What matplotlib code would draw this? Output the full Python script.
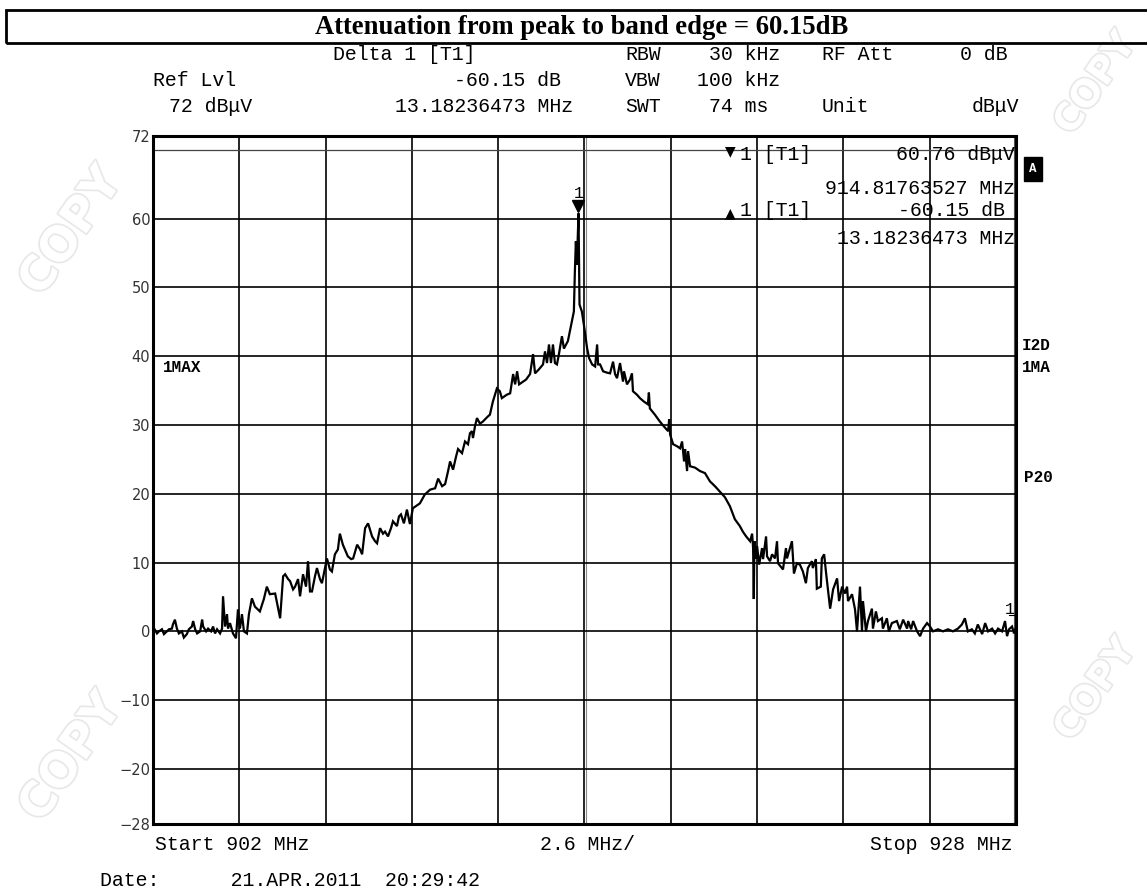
import numpy as np
import matplotlib
matplotlib.use("Agg")
import matplotlib.pyplot as plt
import matplotlib.patheffects as pe
from matplotlib.transforms import offset_copy
from matplotlib.patches import Rectangle

# ---------------------------- sweep settings -----------------------------
F_START, F_STOP = 902.0, 928.0          # MHz
REF_LVL, BOTTOM = 72, -28               # dBuV
GRID_DB = [70, 60, 50, 40, 30, 20, 10, 0, -10, -20]
YTICKS = [72, 60, 50, 40, 30, 20, 10, 0, -10, -20, -28]
PEAK_F, PEAK_DB = 914.81763527, 60.76   # marker 1
EDGE_F, EDGE_DB = 928.0, 0.61           # delta marker 1 (band edge)

# trace 1 (max hold), MHz / dBuV
TRACE_F = [
    902.00, 902.12, 902.18, 902.27, 902.33, 902.42, 902.48, 902.57, 902.60, 902.66,
    902.72, 902.78, 902.87, 902.93, 903.02, 903.08, 903.17, 903.21, 903.27, 903.33,
    903.42, 903.48, 903.51, 903.60, 903.66, 903.75, 903.81, 903.87, 903.93, 904.02,
    904.08, 904.11, 904.17, 904.23, 904.26, 904.32, 904.41, 904.50, 904.56, 904.62,
    904.68, 904.74, 904.83, 904.89, 904.98, 905.07, 905.22, 905.34, 905.43, 905.52,
    905.68, 905.83, 905.92, 905.98, 906.07, 906.13, 906.22, 906.28, 906.37, 906.43,
    906.52, 906.61, 906.67, 906.73, 906.79, 906.88, 906.94, 907.03, 907.09, 907.18,
    907.24, 907.33, 907.39, 907.48, 907.57, 907.63, 907.72, 907.81, 907.87, 907.97,
    908.03, 908.15, 908.24, 908.30, 908.39, 908.48, 908.60, 908.69, 908.75, 908.84,
    908.93, 908.99, 909.08, 909.17, 909.23, 909.35, 909.41, 909.47, 909.56, 909.65,
    909.74, 909.83, 909.92, 910.04, 910.19, 910.35, 910.50, 910.59, 910.71, 910.80,
    910.89, 910.95, 911.04, 911.13, 911.19, 911.31, 911.40, 911.49, 911.55, 911.61,
    911.64, 911.70, 911.76, 911.85, 911.94, 912.06, 912.15, 912.24, 912.36, 912.45,
    912.51, 912.60, 912.66, 912.76, 912.85, 912.91, 912.97, 913.03, 913.12, 913.24,
    913.36, 913.45, 913.51, 913.63, 913.75, 913.81, 913.87, 913.93, 913.99, 914.05,
    914.11, 914.17, 914.23, 914.32, 914.38, 914.50, 914.62, 914.68, 914.71, 914.74,
    914.77, 914.82, 914.85, 914.92, 914.98, 915.08, 915.14, 915.23, 915.32, 915.38,
    915.41, 915.47, 915.56, 915.68, 915.77, 915.86, 915.92, 915.98, 916.07, 916.16,
    916.19, 916.28, 916.37, 916.43, 916.46, 916.58, 916.67, 916.79, 916.91, 916.94,
    916.97, 917.12, 917.27, 917.39, 917.52, 917.55, 917.58, 917.67, 917.79, 917.88,
    917.94, 918.00, 918.03, 918.09, 918.12, 918.18, 918.33, 918.48, 918.63, 918.78,
    918.93, 919.08, 919.23, 919.38, 919.53, 919.68, 919.77, 919.87, 919.99, 920.05,
    920.08, 920.10, 920.12, 920.17, 920.20, 920.26, 920.35, 920.38, 920.47, 920.50,
    920.59, 920.65, 920.74, 920.80, 920.83, 920.98, 921.07, 921.10, 921.16, 921.25,
    921.31, 921.40, 921.49, 921.58, 921.67, 921.73, 921.85, 921.88, 921.97, 922.00,
    922.12, 922.15, 922.22, 922.28, 922.40, 922.49, 922.61, 922.67, 922.76, 922.85,
    922.91, 922.94, 923.06, 923.15, 923.21, 923.30, 923.36, 923.39, 923.48, 923.54,
    923.66, 923.69, 923.78, 923.84, 923.96, 923.99, 924.11, 924.17, 924.26, 924.41,
    924.50, 924.60, 924.72, 924.75, 924.84, 924.90, 925.02, 925.11, 925.20, 925.32,
    925.41, 925.50, 925.65, 925.80, 925.95, 926.10, 926.25, 926.37, 926.46, 926.55,
    926.67, 926.76, 926.85, 926.98, 927.07, 927.16, 927.28, 927.37, 927.46, 927.58,
    927.67, 927.73, 927.79, 927.88, 927.94, 928.00,
]
TRACE_DB = [
    0.7, -0.3, 0.0, 0.3, -0.4, 0.0, 0.3, 0.4, 1.0, 1.7,
    0.4, -0.3, 0.0, -0.9, -0.4, 0.3, 0.7, 1.5, 0.3, -0.3,
    0.0, 1.7, 0.7, 0.0, 0.4, 0.0, 0.7, -0.3, 0.3, -0.3,
    0.4, 5.1, 0.7, 2.5, 0.4, 1.2, -0.3, -1.0, 3.2, 0.4,
    2.5, 0.0, -0.3, 2.5, 4.8, 3.6, 2.9, 4.7, 6.5, 5.4,
    5.5, 1.9, 8.0, 8.3, 7.6, 7.3, 6.1, 6.5, 7.6, 5.1,
    8.3, 6.5, 10.2, 5.8, 5.8, 8.0, 9.2, 7.6, 7.0, 9.2,
    10.6, 9.0, 8.7, 11.2, 11.9, 14.2, 12.6, 11.6, 10.9, 10.5,
    10.6, 12.6, 11.9, 11.2, 15.0, 15.7, 13.8, 13.1, 12.8, 15.0,
    14.2, 14.5, 13.8, 15.0, 16.0, 15.3, 16.7, 17.0, 15.7, 17.7,
    15.6, 17.9, 18.2, 18.6, 19.9, 20.6, 20.8, 22.2, 21.1, 21.4,
    23.3, 24.7, 23.5, 25.4, 26.5, 25.9, 27.6, 27.2, 28.8, 29.1,
    28.1, 29.8, 31.0, 30.2, 30.5, 31.1, 31.5, 33.4, 35.3, 34.9,
    33.9, 34.2, 34.4, 34.6, 37.4, 35.9, 37.8, 35.9, 36.2, 36.6,
    37.4, 40.3, 37.5, 38.1, 38.8, 40.7, 39.0, 41.7, 39.0, 41.7,
    39.0, 38.8, 40.3, 42.9, 41.1, 42.2, 45.1, 46.5, 52.3, 56.7,
    53.3, 60.76, 47.5, 46.5, 44.6, 41.1, 39.7, 38.8, 38.5, 41.7,
    38.8, 38.8, 37.8, 37.6, 37.5, 39.2, 37.4, 36.8, 39.0, 36.3,
    37.8, 35.9, 36.6, 37.5, 34.9, 34.4, 33.9, 33.4, 33.0, 34.7,
    32.4, 31.5, 30.5, 29.8, 29.1, 30.8, 28.6, 27.2, 26.9, 26.6,
    27.6, 24.7, 26.5, 23.3, 26.2, 24.0, 23.8, 23.3, 23.0, 21.8,
    21.1, 20.3, 19.5, 18.2, 16.3, 15.3, 14.5, 13.8, 13.1, 14.2,
    12.1, 4.7, 13.1, 10.6, 12.4, 9.7, 12.1, 10.5, 13.8, 10.9,
    10.2, 11.2, 10.6, 13.1, 9.9, 9.0, 12.1, 10.6, 11.6, 13.1,
    8.4, 9.9, 9.7, 8.7, 7.0, 9.2, 10.2, 9.2, 10.5, 6.2,
    6.5, 10.6, 11.2, 8.4, 3.3, 6.1, 7.7, 4.4, 6.5, 5.5,
    6.5, 4.4, 5.4, 3.2, 0.0, 6.5, 0.0, 4.4, 0.0, 1.5,
    3.3, 0.4, 2.9, 1.5, 1.9, 0.4, 1.9, 0.0, 1.2, 1.5,
    0.3, 1.7, 0.4, 1.5, 0.3, 1.5, 0.0, -0.7, 0.4, 1.2,
    0.7, 0.0, 0.3, 0.0, 0.3, 0.0, 0.4, 1.0, 1.9, 0.0,
    0.3, -0.3, 1.0, -0.4, 1.2, 0.0, 0.4, -0.3, 0.4, 0.0,
    1.5, -0.7, 0.3, 0.7, -0.3, 0.61,
]

TITLE = "Attenuation from peak to band edge = 60.15dB"
HEADER = [
    # (text, x_px, y_px, ha)
    ("Delta 1 [T1]", 333, 55, "left"),
    ("RBW", 625, 55, "left"),
    ("30 kHz", 780, 55, "right"),
    ("RF Att", 822, 55, "left"),
    ("0 dB", 1008, 55, "right"),
    ("Ref Lvl", 153, 81, "left"),
    ("-60.15 dB", 561, 81, "right"),
    ("VBW", 625, 81, "left"),
    ("100 kHz", 780, 81, "right"),
    ("72 dB\u03bcV", 169, 107, "left"),
    ("13.18236473 MHz", 395, 107, "left"),
    ("SWT", 625, 107, "left"),
    ("74 ms", 768, 107, "right"),
    ("Unit", 822, 107, "left"),
    ("dB\u03bcV", 1019, 107, "right"),
]
MARKER_INFO = [
    ("1 [T1]", 740, 155, "left"),
    ("60.76 dB\u03bcV", 1015, 155, "right"),
    ("914.81763527 MHz", 1015, 189, "right"),
    ("1 [T1]", 740, 210, "left"),
    ("-60.15 dB", 1005, 210, "right"),
    ("13.18236473 MHz", 1015, 239, "right"),
]
FOOTER = [
    ("Start 902 MHz", 155, 845, "left"),
    ("2.6 MHz/", 540, 845, "left"),
    ("Stop 928 MHz", 1013, 845, "right"),
    ("Date:      21.APR.2011  20:29:42", 100, 881, "left"),
]
SIDE = [("I2D", 1022, 346), ("1MA", 1022, 368), ("P20", 1024, 478)]
# -------------------------------------------------------------------------

W, H = 1147, 890
MONO = ["Liberation Mono", "DejaVu Sans Mono"]


def fx(px):
    return px / W


def fy(py):
    return 1 - py / H


fig = plt.figure(figsize=(W / 100, H / 100), dpi=100)
fig.patch.set_facecolor("white")

# faint outlined COPY stamps in the margins
for (x, y, size) in [(72, 232, 34), (72, 758, 34), (1096, 84, 27), (1096, 690, 27)]:
    fig.text(fx(x), fy(y), "COPY", fontsize=size, fontweight="bold", rotation=55,
             ha="center", va="center", color="white", family="DejaVu Sans",
             zorder=0, path_effects=[pe.Stroke(linewidth=2.5, foreground="#e8e8e8"),
                                     pe.Normal()])

ax = fig.add_axes([fx(153), fy(824), fx(1016 - 153), (824 - 136) / H])
ax.set_zorder(2)
ax.set_facecolor("white")
ax.set_xlim(F_START, F_STOP)
ax.set_ylim(BOTTOM, REF_LVL)

# graticule
step = (F_STOP - F_START) / 10
for k in range(1, 10):
    ax.axvline(F_START + k * step, color="black", lw=1.2, zorder=1)
ax.axvline(915.05, color="#888888", lw=0.8, zorder=1)
ax.axvline(927.93, color="#555555", lw=0.8, zorder=1)
for g in GRID_DB:
    if g == 70:
        ax.axhline(g, color="#444444", lw=0.9, zorder=1)
    else:
        ax.axhline(g, color="black", lw=1.2, zorder=1)

ax.plot(TRACE_F, TRACE_DB, color="black", lw=1.6, zorder=3, solid_joinstyle="miter")

# marker 1 on peak
tri = offset_copy(ax.transData, fig=fig, x=0, y=5, units="points")
ax.plot([PEAK_F], [PEAK_DB], marker="v", color="black", markersize=9,
        transform=tri, zorder=4, clip_on=False)
lab = offset_copy(ax.transData, fig=fig, x=0, y=14, units="points")
ax.text(PEAK_F, PEAK_DB, "1", transform=lab, ha="center", va="center",
        fontsize=12, family=MONO)
# delta marker 1 at band edge
ax.text(EDGE_F - 0.05, EDGE_DB + 2.6, "1", ha="right", va="center",
        fontsize=12, family=MONO)
ax.plot([EDGE_F - 0.2, EDGE_F], [EDGE_DB + 1.8] * 2, color="black", lw=0.8)

ax.set_xticks([])
ax.set_yticks(YTICKS)
ax.set_yticklabels([str(v).replace("-", "\u2212") for v in YTICKS],
                   fontsize=10.5, color="#333333")
ax.tick_params(axis="y", length=0, pad=2)
for s in ax.spines.values():
    s.set_linewidth(2.2)
    s.set_color("black")

# header, marker readout, footer
for txt, x, y, ha in HEADER + MARKER_INFO + FOOTER:
    fig.text(fx(x), fy(y), txt, fontsize=14.3, family=MONO, ha=ha, va="center",
             zorder=3)
fig.text(fx(730), fy(151), "\u25bc", fontsize=10, ha="center", va="center",
         family="DejaVu Sans", zorder=3)
fig.text(fx(730), fy(213), "\u25b2", fontsize=10, ha="center", va="center",
         family="DejaVu Sans", zorder=3)
fig.text(fx(163), fy(367), "1MAX", fontsize=11.5, fontweight="bold", family=MONO,
         ha="left", va="center", zorder=3)
for txt, x, y in SIDE:
    fig.text(fx(x), fy(y), txt, fontsize=11.5, fontweight="bold", family=MONO,
             ha="left", va="center")
fig.text(fx(1033), fy(169), "A", fontsize=9, fontweight="bold", family=MONO,
         color="white", ha="center", va="center",
         bbox=dict(boxstyle="square,pad=0.45", facecolor="black", edgecolor="black"))

# title box
fig.patches.append(Rectangle((fx(6), fy(43)), 1.2, (43 - 10) / H,
                             transform=fig.transFigure, fill=False,
                             edgecolor="black", lw=2, zorder=2))
fig.text(fx(582), fy(28), TITLE, fontsize=19.2, fontweight="bold",
         family=["Liberation Serif", "DejaVu Serif"], ha="center", va="center")

fig.savefig("out.png", dpi=100, facecolor="white")
